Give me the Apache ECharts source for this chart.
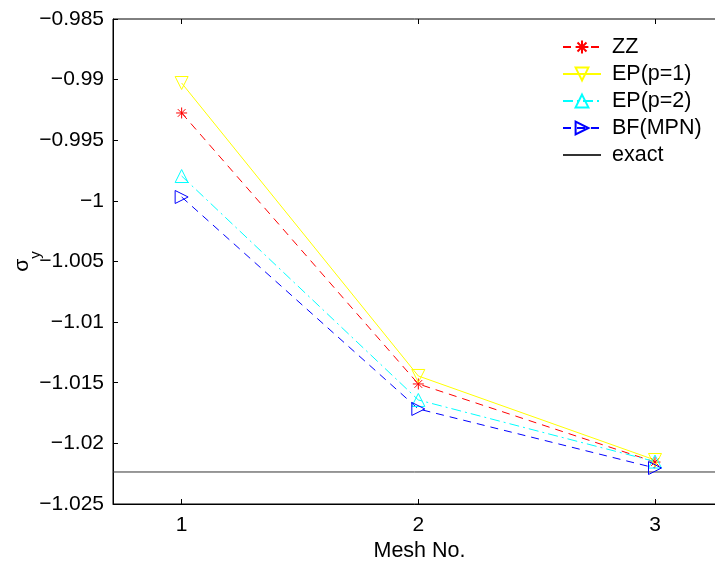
<!DOCTYPE html>
<html><head><meta charset="utf-8">
<script src="https://cdn.jsdelivr.net/npm/echarts@6/dist/echarts.min.js"></script>
<style>html,body{margin:0;padding:0;background:#fff}#c{width:715px;height:561px}</style>
</head><body><div id="c"></div>
<script>
const meshNo = [1, 2, 3];
const zz   = [-0.99275, -1.0151, -1.02154];
const ep1  = [-0.99028, -1.01444, -1.02137];
const ep2  = [-0.99795, -1.01642, -1.0215];
const bf   = [-0.99968, -1.01716, -1.02203];
const exactVal = -1.02236;
const xTicks = [1, 2, 3];
const xRange = [0.71, 3.3];
const yRange = [-1.025, -0.985];

const fmt = v => parseFloat(v.toFixed(3)).toString().replace('-', '\u2212');
const pts = arr => meshNo.map((x, i) => [x, arr[i]]);
const FONT = 'Liberation Sans';
const FS = 21;
const star = 'path://M0,-1L0,1M-1,0L1,0M-0.7,-0.7L0.7,0.7M-0.7,0.7L0.7,-0.7';

function s(name, data, color, type, symbol, rot, size) {
  return {
    name, type: 'line', data: pts(data), symbol, symbolSize: size, symbolRotate: rot,
    lineStyle: { color, width: 1, type },
    itemStyle: { color: 'transparent', borderColor: color, borderWidth: 1 },
    emphasis: { disabled: true }, z: 3
  };
}

const chart = echarts.init(document.getElementById('c'));
chart.setOption({
  animation: false,
  grid: { left: 113, top: 19, width: 613, height: 485, show: true, borderColor: '#000', borderWidth: 1,
          containLabel: false, outerBoundsMode: 'none' },
  legend: {
    orient: 'vertical', left: 557, top: 31, itemWidth: 38, itemHeight: 16, itemGap: 5,
    textStyle: { fontFamily: FONT, fontSize: 21.5, color: '#000', padding: [0, 0, 0, 6] },
    data: ['ZZ', 'EP(p=1)', 'EP(p=2)', 'BF(MPN)', 'exact']
  },
  xAxis: [{
    type: 'value', min: xRange[0], max: xRange[1],
    name: 'Mesh No.', nameLocation: 'middle', nameGap: 36, nameMoveOverlap: false,
    nameTextStyle: { fontFamily: FONT, fontSize: 21.5, color: '#000' },
    axisLine: { lineStyle: { color: '#000' } },
    axisTick: { inside: true, length: 5, customValues: xTicks, lineStyle: { color: '#000' } },
    axisLabel: { customValues: xTicks, fontFamily: FONT, fontSize: FS, color: '#000', margin: 11, formatter: v => String(v) },
    splitLine: { show: false }
  }, {
    type: 'value', position: 'top', min: xRange[0], max: xRange[1],
    axisLine: { show: false },
    axisTick: { inside: true, length: 5, customValues: xTicks, lineStyle: { color: '#000' } },
    axisLabel: { show: false }, splitLine: { show: false }
  }],
  yAxis: {
    type: 'value', min: yRange[0], max: yRange[1], interval: 0.005,
    name: '{s|\u03c3}{sub|y}', nameLocation: 'middle', nameGap: 80, nameRotate: 90, nameMoveOverlap: false,
    nameTextStyle: { fontFamily: FONT, color: '#000',
      rich: { s: { fontFamily: FONT, fontSize: FS, color: '#000' },
              sub: { fontFamily: FONT, fontSize: 15, color: '#000', verticalAlign: 'bottom', padding: [0, 0, -10, 0] } } },
    axisLine: { lineStyle: { color: '#000' } },
    axisTick: { inside: true, length: 5, lineStyle: { color: '#000' } },
    axisLabel: { fontFamily: FONT, fontSize: FS, color: '#000', margin: 9, formatter: fmt },
    splitLine: { show: false }
  },
  series: [
    s('ZZ', zz, '#ff0000', [8, 6], star, 0, 11),
    s('EP(p=1)', ep1, '#ffff00', 'solid', 'triangle', 180, 13),
    s('EP(p=2)', ep2, '#00ffff', [10, 4, 2, 4], 'triangle', 0, 13),
    s('BF(MPN)', bf, '#0000ff', [8, 6], 'triangle', -90, 13),
    {
      name: 'exact', type: 'line', data: [[xRange[0], exactVal], [xRange[1], exactVal]],
      symbol: 'circle', symbolSize: 0, showSymbol: false,
      lineStyle: { color: '#333', width: 1 },
      itemStyle: { color: 'transparent', borderColor: 'transparent', borderWidth: 0 }, z: 2
    }
  ]
});
</script></body></html>
